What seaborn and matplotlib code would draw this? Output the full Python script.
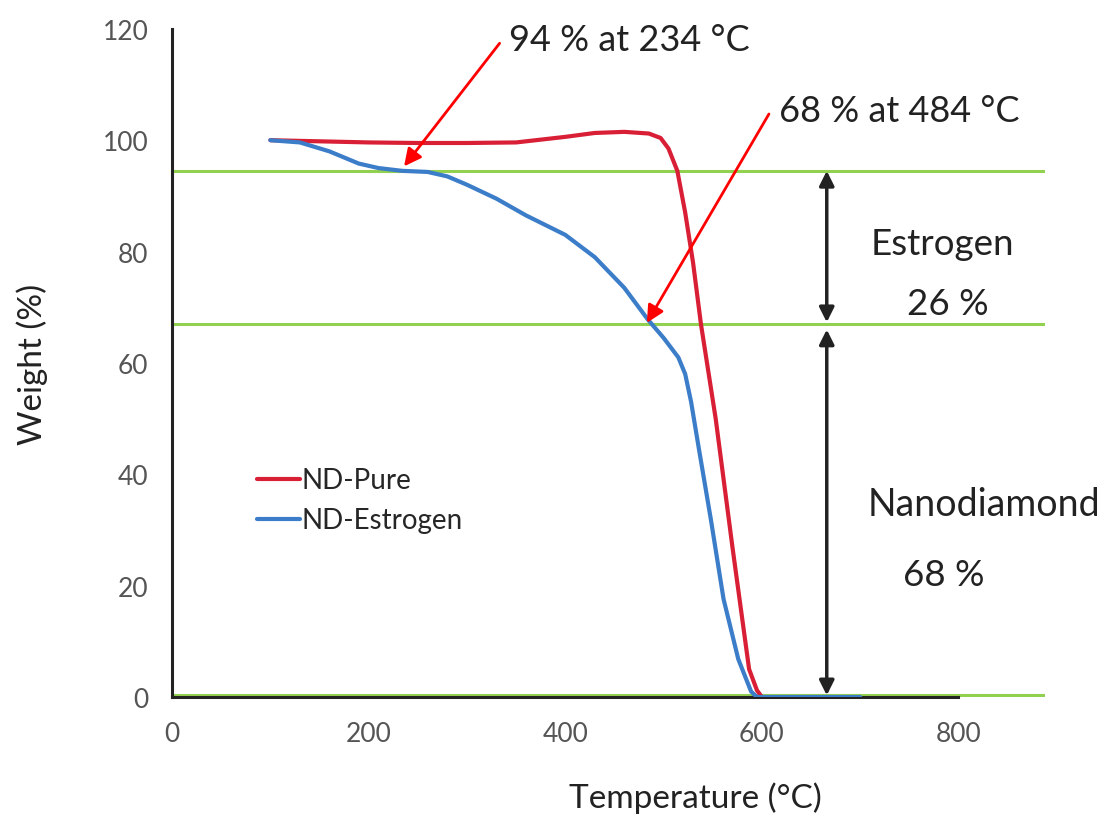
import pandas as pd
import matplotlib.pyplot as plt
import seaborn as sns

# TGA curves
temp_pure = [100, 150, 200, 250, 300, 350, 400, 430, 460, 485, 497, 505, 514, 522, 530, 538,
             553, 570, 587, 595, 600]
wt_pure = [100, 99.8, 99.6, 99.5, 99.5, 99.6, 100.6, 101.3, 101.5, 101.2, 100.4, 98.5, 94.5,
           87, 78, 67, 50, 27, 5, 1.2, 0]

temp_est = [100, 130, 160, 190, 210, 234, 260, 280, 300, 330, 360, 400, 430, 460, 484, 500,
            515, 522, 528, 536, 548, 561, 576, 589, 595, 620, 660, 700]
wt_est = [100, 99.6, 98, 95.8, 95, 94.5, 94.3, 93.5, 92, 89.5, 86.5, 83, 79, 73.5, 67.8, 64.5,
          61, 58, 53, 44.5, 32, 17.6, 6.8, 1, 0, 0, 0, 0]

level_lines = [94.5, 67, 0.3]
x_ticks = [0, 200, 400, 600, 800]
y_ticks = [0, 20, 40, 60, 80, 100, 120]

df = pd.concat([
    pd.DataFrame({"Temperature": temp_pure, "Weight": wt_pure, "Sample": "ND-Pure"}),
    pd.DataFrame({"Temperature": temp_est, "Weight": wt_est, "Sample": "ND-Estrogen"}),
])

sns.set_theme(style="white")
plt.rcParams["font.family"] = ["Lato", "DejaVu Sans"]

fig = plt.figure(figsize=(11.05, 8.29), dpi=100)
ax = fig.add_axes([0.1557, 0.158, 0.79, 0.806])

# green reference levels
for lv in level_lines:
    ax.axhline(lv, color="#92d050", lw=2.2, zorder=1)

sns.lineplot(data=df, x="Temperature", y="Weight", hue="Sample", sort=False,
             palette={"ND-Pure": "#d81f35", "ND-Estrogen": "#3b7dc8"},
             linewidth=3, ax=ax, zorder=3)

ax.set_xlim(0, 888)
ax.set_ylim(0, 120)
ax.set_xticks(x_ticks)
ax.set_yticks(y_ticks)
ax.spines["top"].set_visible(False)
ax.spines["right"].set_visible(False)
ax.spines["bottom"].set_bounds(0, 800)
for s in ["left", "bottom"]:
    ax.spines[s].set_color("#222222")
    ax.spines[s].set_linewidth(2.2)
    ax.spines[s].set_zorder(2)
ax.tick_params(axis="both", direction="out", length=7, width=2.2, color="#222222",
               labelsize=19, labelcolor="#555555", pad=10)

ax.set_xlabel("Temperature (°C)", fontsize=24, color="#222222")
ax.set_ylabel("Weight (%)", fontsize=24, color="#222222")
ax.xaxis.set_label_coords(0.599, -0.126)
ax.yaxis.set_label_coords(-0.142, 0.499)

leg = ax.legend(loc="upper left", bbox_to_anchor=(0.069, 0.381), frameon=False,
                fontsize=20, handlelength=1.55, handletextpad=0.05, labelspacing=0.5)

# red call-outs
arrow_red = dict(arrowstyle="-|>", color="#ff0000", lw=2, mutation_scale=26,
                 shrinkA=0, shrinkB=0, relpos=(-0.04, 0.4))
ax.annotate("94 % at 234 °C", xy=(236, 95.3), xytext=(343, 118), fontsize=26,
            color="#222222", va="center", arrowprops=arrow_red)
ax.annotate("68 % at 484 °C", xy=(483, 67.2), xytext=(617, 105.3), fontsize=26,
            color="#222222", va="center", arrowprops=arrow_red)

# double headed span arrows
arrow_blk = dict(arrowstyle="<|-|>", color="#222222", lw=2.5, mutation_scale=22,
                 shrinkA=0, shrinkB=0)
ax.annotate("", xy=(666, 94.5), xytext=(666, 67.3), arrowprops=arrow_blk)
ax.annotate("", xy=(666, 66), xytext=(666, 0.3), arrowprops=arrow_blk)

ax.text(784, 81.4, "Estrogen", fontsize=26.5, ha="center", va="center", color="#222222")
ax.text(789, 70.6, "26 %", fontsize=26.5, ha="center", va="center", color="#222222")
ax.text(826, 34.7, "Nanodiamond", fontsize=27, ha="center", va="center", color="#222222")
ax.text(785, 22, "68 %", fontsize=26.5, ha="center", va="center", color="#222222")

fig.savefig("out.png", dpi=100)
